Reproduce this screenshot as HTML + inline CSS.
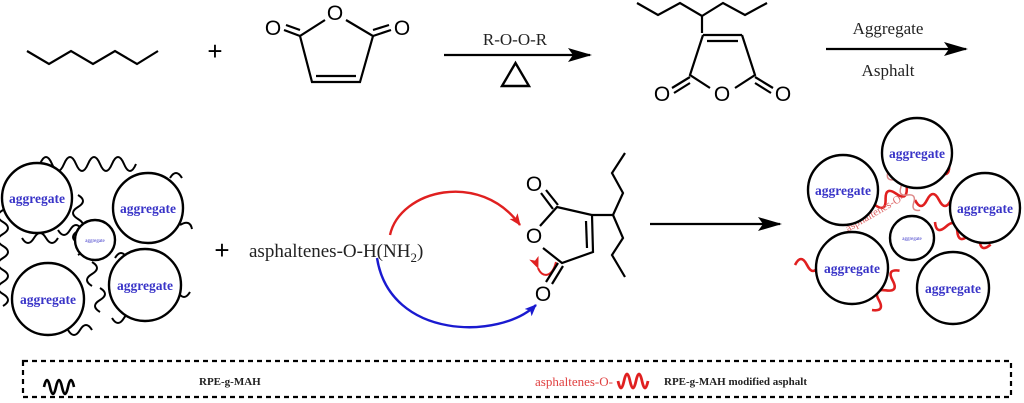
<!DOCTYPE html>
<html><head><meta charset="utf-8"><style>
html,body{margin:0;padding:0;background:#fff;}
svg{display:block;}
.s{stroke:#000;stroke-width:2.2;fill:none;stroke-linejoin:miter;}
.w{stroke:#000;stroke-width:2;fill:none;}
.r{stroke:#e02020;stroke-width:2.6;fill:none;}
.c{stroke:#000;stroke-width:2.4;fill:#fff;}
.ag{font-family:"Liberation Serif",serif;font-weight:bold;fill:#3a35c8;font-size:13.5px;text-anchor:middle;}
.t{font-family:"Liberation Sans",sans-serif;font-size:19px;fill:#000;text-anchor:middle;}
.sf{font-family:"Liberation Serif",serif;fill:#222;}
</style></head><body>
<svg width="1024" height="403" viewBox="0 0 1024 403" xmlns="http://www.w3.org/2000/svg">
<defs>
<marker id="big" markerWidth="24" markerHeight="14" refX="22" refY="7" orient="auto" markerUnits="userSpaceOnUse"><path d="M0,0 L24,7 L0,14 L5,7z" fill="#000"/></marker>
<marker id="ra" markerWidth="12" markerHeight="10" refX="11" refY="5" orient="auto" markerUnits="userSpaceOnUse"><path d="M0,0 L12,5 L0,10 L3,5z" fill="#e02020"/></marker>
<marker id="ba" markerWidth="12" markerHeight="10" refX="11" refY="5" orient="auto" markerUnits="userSpaceOnUse"><path d="M0,0 L12,5 L0,10 L3,5z" fill="#1a1ad0"/></marker>
</defs>

<polyline class="s" points="27,51 49,64 71,51 93,64 115,51 137,64 158,51"/>
<text class="t" x="215" y="60" style="font-size:26px">+</text>

<text class="t" x="335" y="20" style="font-size:21px">O</text>
<polyline class="s" points="325,20 300,36 312,82 360,82 373,36 346,20"/>
<line class="s" x1="316" y1="76" x2="356" y2="76"/>
<text class="t" x="273" y="35" style="font-size:21px">O</text>
<line class="s" x1="284" y1="30" x2="300" y2="36"/><line class="s" x1="286" y1="25" x2="300" y2="30"/>
<text class="t" x="402" y="35" style="font-size:21px">O</text>
<line class="s" x1="391" y1="30" x2="373" y2="36"/><line class="s" x1="389" y1="25" x2="373" y2="30"/>

<line class="s" x1="444" y1="55" x2="590" y2="55" stroke-width="2.6" marker-end="url(#big)"/>
<text class="sf" x="515" y="45" text-anchor="middle" font-size="17">R-O-O-R</text>
<polygon points="502,86 529,86 515.5,63" fill="none" stroke="#000" stroke-width="2.4"/>

<polyline class="s" points="637,3 658,15 680,3 702,16 723,3 745,15 767,3"/>
<line class="s" x1="702" y1="16" x2="702" y2="33"/>
<polyline class="s" points="703,35 690,75 710,88"/>
<polyline class="s" points="742,35 755,75 735,88"/>
<line class="s" x1="703" y1="35" x2="742" y2="35"/><line class="s" x1="707" y1="41" x2="738" y2="41"/>
<text class="t" x="722" y="101" style="font-size:21px">O</text>
<text class="t" x="662" y="101" style="font-size:21px">O</text>
<line class="s" x1="672" y1="88" x2="690" y2="77"/><line class="s" x1="674" y1="93" x2="690" y2="83"/>
<text class="t" x="783" y="101" style="font-size:21px">O</text>
<line class="s" x1="773" y1="88" x2="755" y2="77"/><line class="s" x1="771" y1="93" x2="755" y2="83"/>

<line class="s" x1="826" y1="49" x2="966" y2="49" stroke-width="2.6" marker-end="url(#big)"/>
<text class="sf" x="888" y="34" text-anchor="middle" font-size="17">Aggregate</text>
<text class="sf" x="888" y="76" text-anchor="middle" font-size="17">Asphalt</text>

<!-- left cluster waves -->
<g class="w">
<path d="M40,164 q6,-14 12,0 t12,0 t12,0 t12,0 t12,0 t12,0 t12,0 t12,0"/>
<path d="M3,210 q-10,6 0,12 t0,12 t0,12 t0,12 t0,12 t0,12 t0,12 t0,12"/>
<path d="M78,195 q10,6 0,12 t0,12 t0,12 t0,12 t0,12"/>
<path d="M58,230 q6,10 12,0 t12,0 t12,0"/>
<path d="M22,238 q6,10 12,0 t12,0 t12,0"/>
<path d="M115,258 q6,-10 12,0 t12,0 t12,0"/>
<path d="M92,262 q10,6 0,12 t0,12"/>
<path d="M180,225 q10,-6 12,4"/>
<path d="M68,330 q6,10 12,0 t12,0"/>
<path d="M100,288 q10,6 0,12 t0,12"/>
<path d="M112,318 q6,10 12,0 t12,0"/>
<path d="M178,292 q6,10 12,0"/>
<path d="M170,178 q6,-10 12,0"/>
</g>
<circle class="c" cx="37" cy="198" r="35"/><text class="ag" x="37" y="203">aggregate</text>
<circle class="c" cx="148" cy="208" r="35"/><text class="ag" x="148" y="213">aggregate</text>
<circle class="c" cx="95" cy="240" r="20"/><text class="ag" x="95" y="242" style="font-size:5px;font-weight:normal">aggregate</text>
<circle class="c" cx="48" cy="299" r="36"/><text class="ag" x="48" y="304">aggregate</text>
<circle class="c" cx="145" cy="285" r="36"/><text class="ag" x="145" y="290">aggregate</text>

<text class="t" x="222" y="259" style="font-size:26px">+</text>
<text class="sf" x="249" y="257" font-size="19">asphaltenes-O-H(NH<tspan font-size="13" dy="5">2</tspan><tspan dy="-5">)</tspan></text>

<path d="M390,235 C400,190 480,170 520,225" stroke="#e02020" stroke-width="2.4" fill="none" marker-end="url(#ra)"/>
<path d="M377,258 C390,340 500,340 536,305" stroke="#1a1ad0" stroke-width="2.4" fill="none" marker-end="url(#ba)"/>
<path d="M538,268 C542,278 552,278 556,262" stroke="#e02020" stroke-width="2" fill="none" marker-start="url(#ra)"/>

<text class="t" x="534" y="243" style="font-size:21px">O</text>
<polyline class="s" points="540,226 557,207 592,215 593,252 562,263 543,248"/>
<line class="s" x1="586" y1="221" x2="587" y2="248"/>
<text class="t" x="534" y="191" style="font-size:21px">O</text>
<line class="s" x1="541" y1="193" x2="553" y2="209"/><line class="s" x1="546" y1="190" x2="558" y2="205"/>
<text class="t" x="543" y="301" style="font-size:21px">O</text>
<line class="s" x1="546" y1="282" x2="558" y2="263"/><line class="s" x1="552" y1="284" x2="563" y2="266"/>
<polyline class="s" points="592,215 613,215 623,193 612,173 625,153"/>
<polyline class="s" points="613,215 623,238 612,255 625,277"/>

<line class="s" x1="650" y1="224" x2="780" y2="224" stroke-width="2.6" marker-end="url(#big)"/>

<!-- right cluster -->
<g class="r">
<path d="M795,265 q6,-12 12,0 t12,0 t12,0"/>
<path d="M875,205 q6,12 12,0 t12,0 t12,0 t12,0 t12,0 t12,0 t12,0" transform="rotate(-28 875 205)"/>
<path d="M915,200 q6,12 12,0 t12,0 t12,0 t12,0 t12,0"/>
<path d="M935,222 q6,12 12,0 t12,0 t12,0 t12,0 t12,0" transform="rotate(22 935 222)"/>
<path d="M872,310 q6,12 12,0 t12,0 t12,0 t12,0" transform="rotate(-55 872 310)"/>
<path d="M888,172 q5,8 10,0 t10,0 t10,0 t10,0 t10,0" transform="rotate(50 888 172)" stroke="#d88" stroke-width="1.5"/>
</g>
<text x="848" y="232" fill="#d66" font-family="Liberation Serif,serif" font-size="11" transform="rotate(-30 848 232)">asphaltenes-O-</text>
<circle class="c" cx="917" cy="153" r="35"/><text class="ag" x="917" y="158">aggregate</text>
<circle class="c" cx="843" cy="190" r="35"/><text class="ag" x="843" y="195">aggregate</text>
<circle class="c" cx="985" cy="208" r="35"/><text class="ag" x="985" y="213">aggregate</text>
<circle class="c" cx="912" cy="238" r="22"/><text class="ag" x="912" y="240" style="font-size:5px;font-weight:normal">aggregate</text>
<circle class="c" cx="852" cy="268" r="36"/><text class="ag" x="852" y="273">aggregate</text>
<circle class="c" cx="953" cy="288" r="36"/><text class="ag" x="953" y="293">aggregate</text>

<!-- legend -->
<rect x="23" y="361" width="988" height="36" fill="none" stroke="#000" stroke-width="2.2" stroke-dasharray="5,4"/>
<path d="M44,387 q3,-14 6,0 t6,0 t6,0 t6,0 t6,0" stroke="#000" stroke-width="2.6" fill="none"/>
<text class="sf" x="199" y="385" font-size="11" font-weight="bold">RPE-g-MAH</text>
<text class="sf" x="535" y="386" font-size="13" style="fill:#e04040">asphaltenes-O-</text>
<path d="M618,381 q3,14 6,0 t6,0 t6,0 t6,0 t6,0" stroke="#e02020" stroke-width="2.8" fill="none"/>
<text class="sf" x="664" y="385" font-size="11" font-weight="bold">RPE-g-MAH modified asphalt</text>
</svg>
</body></html>
